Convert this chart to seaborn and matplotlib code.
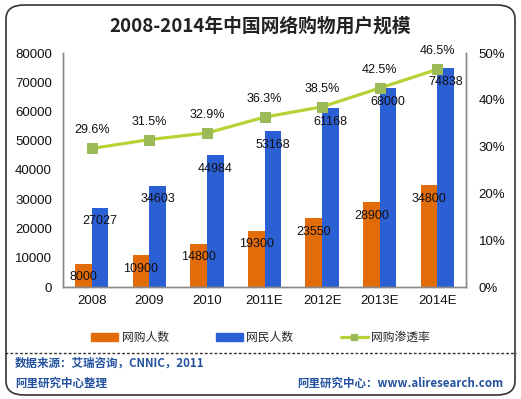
import matplotlib.pyplot as plt
import pandas as pd
import seaborn as sns
from matplotlib.patches import FancyBboxPatch
from matplotlib.lines import Line2D

years = ['2008', '2009', '2010', '2011E', '2012E', '2013E', '2014E']
shoppers = [8000, 10900, 14800, 19300, 23550, 28900, 34800]
netizens = [27027, 34603, 44984, 53168, 61168, 68000, 74838]
penetration = [29.6, 31.5, 32.9, 36.3, 38.5, 42.5, 46.5]

series_names = ['网购人数', '网民人数', '网购渗透率']
title = '2008-2014年中国网络购物用户规模'
source = '数据来源：艾瑞咨询，CNNIC，2011'
editor = '阿里研究中心整理'
site = '阿里研究中心：www.aliresearch.com'

orange = '#E36C0A'
blue = '#2B5FD4'
green = '#B5D334'
marker_green = '#9BBB59'
footer_blue = '#2452A0'

df = pd.DataFrame({
    'year': years * 2,
    'value': shoppers + netizens,
    'series': [series_names[0]] * len(years) + [series_names[1]] * len(years),
})

sns.set_style('white')
plt.rcParams['font.family'] = ['Liberation Sans', 'Noto Sans CJK SC']

fig = plt.figure(figsize=(5.21, 3.99), dpi=100)
ax = fig.add_axes([63 / 521, 1 - 287 / 399, 403 / 521, 234 / 399])

sns.barplot(data=df, x='year', y='value', hue='series', order=years,
            hue_order=series_names[:2], palette=[orange, blue],
            width=0.58, gap=0, saturation=1, linewidth=0, legend=False, ax=ax)
ax.set_ylim(0, 80000)
ax.set_xlim(-0.5, len(years) - 0.5)
ax.set_yticks(range(0, 80001, 10000))
ax.set_xlabel('')
ax.set_ylabel('')
ax.tick_params(axis='y', length=0, pad=8, labelsize=9.5, colors='#111111')
ax.tick_params(axis='x', length=0, pad=6, labelsize=9.5, colors='#111111')
for c in ax.containers:
    ax.bar_label(c, labels=[f'{int(v)}' for v in c.datavalues],
                 label_type='edge', padding=-14, fontsize=9, color='#111111')

ax2 = ax.twinx()
sns.lineplot(x=list(range(len(years))), y=penetration, color=green, lw=2.3,
             marker='s', markersize=7, markerfacecolor=marker_green,
             markeredgecolor=marker_green, ax=ax2)
ax2.set_ylim(0, 50)
ax2.set_yticks(range(0, 51, 10))
ax2.set_yticklabels([f'{v}%' for v in range(0, 51, 10)])
ax2.tick_params(axis='y', length=0, pad=9, labelsize=9.5, colors='#111111')
for i, p in enumerate(penetration):
    ax2.annotate(f'{p}%', (i, p), xytext=(0, 13), textcoords='offset points',
                 ha='center', va='center', fontsize=9, color='#111111')

for a in (ax, ax2):
    a.spines['top'].set_visible(False)
    for side in ['left', 'right', 'bottom']:
        a.spines[side].set_color('#8a8a8a')
        a.spines[side].set_linewidth(1)

handles = [
    plt.Rectangle((0, 0), 1, 1, color=orange),
    plt.Rectangle((0, 0), 1, 1, color=blue),
    Line2D([0], [0], color=green, lw=2.3, marker='s', markersize=5,
           markerfacecolor=marker_green, markeredgecolor=marker_green),
]
fig.legend(handles, series_names, loc='center', bbox_to_anchor=(0.5, 1 - 338 / 399),
           ncol=3, frameon=False, fontsize=8.5, handlelength=2.3,
           handletextpad=0.3, columnspacing=4, handleheight=0.6)

fig.text(0.5, 1 - 26 / 399, title, ha='center', va='center', fontsize=13.5,
         fontweight='bold', color='#222222', family=['Noto Sans CJK SC'])

fig.text(15 / 521, 1 - 363 / 399, source, ha='left', va='center', fontsize=8.3,
         fontweight='bold', color=footer_blue, family=['Noto Sans CJK SC'])
fig.text(15 / 521, 1 - 383 / 399, editor, ha='left', va='center', fontsize=8.3,
         fontweight='bold', color=footer_blue, family=['Noto Sans CJK SC'])
fig.text(503 / 521, 1 - 383 / 399, site, ha='right', va='center', fontsize=8.3,
         fontweight='bold', color=footer_blue, family=['Noto Sans CJK SC'])

fig.add_artist(Line2D([5 / 521, 516 / 521], [1 - 353 / 399, 1 - 353 / 399],
                      transform=fig.transFigure, color='#333333', lw=1,
                      linestyle=(0, (2, 1.5))))
fig.add_artist(FancyBboxPatch((6 / 521, 4 / 399), 509 / 521, 390 / 399,
                              boxstyle='round,pad=0,rounding_size=0.035',
                              transform=fig.transFigure, facecolor='none',
                              edgecolor='#333333', lw=1.2))

fig.savefig('out.png', dpi=100)
